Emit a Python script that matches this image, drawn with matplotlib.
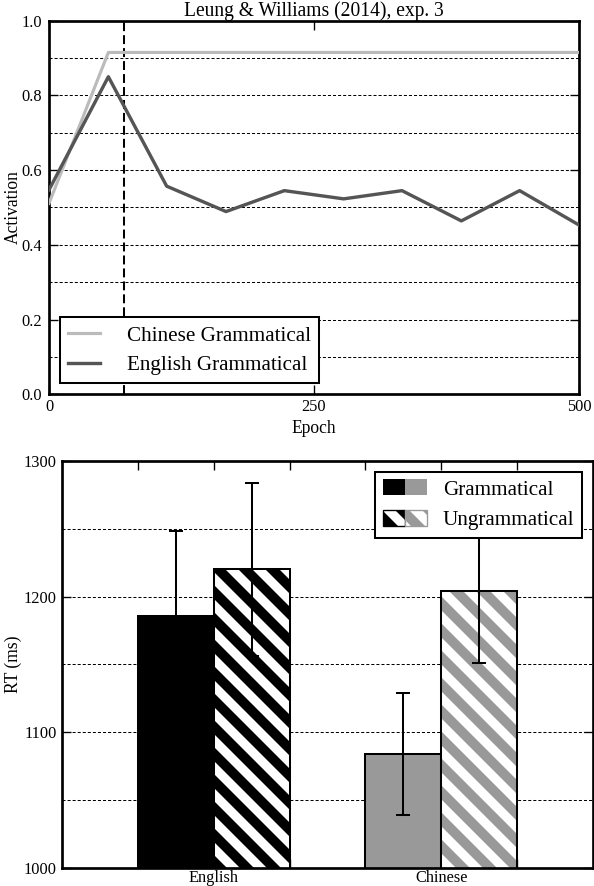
import matplotlib
matplotlib.use("Agg")
import matplotlib.pyplot as plt
from matplotlib.patches import Patch
from matplotlib.legend_handler import HandlerTuple
from matplotlib.ticker import MultipleLocator, FixedLocator, FormatStrFormatter

# ---------------- data ----------------
epochs = [0, 56, 111, 167, 222, 278, 333, 389, 444, 500]
chinese_gram = [0.511, 0.915, 0.915, 0.915, 0.915, 0.915, 0.915, 0.915, 0.915, 0.915]
english_gram = [0.547, 0.850, 0.557, 0.489, 0.545, 0.523, 0.545, 0.464, 0.545, 0.453]
criterion_epoch = 71
top_title = "Leung & Williams (2014), exp. 3"

languages = ["English", "Chinese"]
rt_gram = [1186, 1084]
rt_ungram = [1220, 1204]
err_gram = [62, 45]
err_ungram = [64, 53]

# ---------------- style ----------------
DPI = 162
plt.rcParams["font.family"] = ["Liberation Serif", "DejaVu Serif"]
plt.rcParams["hatch.linewidth"] = 4.4
plt.rcParams["axes.linewidth"] = 1.2
TICK_FS = 7.3
LAB_FS = 7.8
LEG_FS = 9.4

W, H = 594, 886
fig = plt.figure(figsize=(W / DPI, H / DPI), dpi=DPI)
ax1 = fig.add_axes([49 / W, 1 - 394.2 / H, 530 / W, 373.5 / H])
ax2 = fig.add_axes([62 / W, 1 - 867.7 / H, 531 / W, 406.7 / H])

grid_kw = dict(color="black", linewidth=0.45, linestyle=(0, (3, 2)))

# ---------------- top panel ----------------
ax1.plot(epochs, chinese_gram, color="#bbbbbb", lw=1.4, label="Chinese Grammatical", zorder=3)
ax1.plot(epochs, english_gram, color="#555555", lw=1.5, label="English Grammatical", zorder=3)
ax1.axvline(criterion_epoch, color="black", lw=0.9, linestyle=(0, (4.4, 2.0)), zorder=2)
ax1.set_xlim(0, 500)
ax1.set_ylim(0, 1.0)
ax1.set_xticks([0, 250, 500])
ax1.yaxis.set_major_locator(MultipleLocator(0.2))
ax1.yaxis.set_minor_locator(MultipleLocator(0.1))
ax1.yaxis.set_major_formatter(FormatStrFormatter("%.1f"))
ax1.grid(True, axis="y", which="both", **grid_kw)
ax1.set_axisbelow(True)
ax1.tick_params(which="both", direction="in", top=True, right=True, length=4,
                width=0.6, labelsize=TICK_FS, pad=3)
ax1.tick_params(axis="x", pad=2.2)
ax1.tick_params(which="minor", length=0)
ax1.set_xlabel("Epoch", fontsize=LAB_FS, labelpad=2)
ax1.set_ylabel("Activation", fontsize=LAB_FS, labelpad=0)
ax1.set_title(top_title, fontsize=8.7, pad=1.5)
leg1 = ax1.legend(loc="lower left", bbox_to_anchor=(0.0208, 0.029), borderaxespad=0,
                  fontsize=LEG_FS, fancybox=False, framealpha=1, edgecolor="black",
                  handlelength=1.5, handletextpad=1.25, labelspacing=0.45,
                  borderpad=0.4)
leg1.get_frame().set_linewidth(0.9)

# ---------------- bottom panel ----------------
w = 1 / 3
xs = list(range(len(languages)))
x_g = [x - w / 2 for x in xs]
x_u = [x + w / 2 for x in xs]
gram_colors = ["black", "#999999"]
hatch_colors = ["black", "#999999"]
HATCH = "\\\\"

ax2.bar(x_g, rt_gram, width=w, color=gram_colors, edgecolor="black", linewidth=0.9, zorder=2)
ax2.bar(x_u, rt_ungram, width=w, color="white", edgecolor=hatch_colors, hatch=HATCH,
        linewidth=0, zorder=2)
ax2.bar(x_u, rt_ungram, width=w, fill=False, edgecolor="black", linewidth=0.9, zorder=2.1)
ax2.errorbar(x_g, rt_gram, yerr=err_gram, fmt="none", ecolor="black", elinewidth=0.9,
             capsize=3, capthick=0.9, zorder=3)
ax2.errorbar(x_u, rt_ungram, yerr=err_ungram, fmt="none", ecolor="black", elinewidth=0.9,
             capsize=3, capthick=0.9, zorder=3)

ax2.set_xlim(-2 / 3, 5 / 3)
ax2.set_ylim(1000, 1300)
ax2.set_xticks(xs)
ax2.set_xticklabels(languages)
ax2.xaxis.set_minor_locator(FixedLocator([x_g[0] - w / 2, x_u[0] + w / 2,
                                          x_g[1] - w / 2, x_u[1] + w / 2]))
ax2.yaxis.set_major_locator(MultipleLocator(100))
ax2.yaxis.set_minor_locator(MultipleLocator(50))
ax2.grid(True, axis="y", which="both", **grid_kw)
ax2.set_axisbelow(True)
ax2.tick_params(which="both", direction="in", top=True, right=True, length=4,
                width=0.6, labelsize=TICK_FS, pad=2.2)
ax2.tick_params(axis="x", which="both", pad=1.0)
ax2.tick_params(axis="y", which="minor", length=0)
ax2.set_ylabel("RT (ms)", fontsize=LAB_FS, labelpad=1)

h_gram = (Patch(facecolor="black", edgecolor="black", linewidth=0),
          Patch(facecolor="#999999", edgecolor="#999999", linewidth=0))
h_ungram = (Patch(facecolor="white", edgecolor="black", hatch=HATCH, linewidth=0.6),
            Patch(facecolor="white", edgecolor="#999999", hatch=HATCH, linewidth=0.6))
leg2 = ax2.legend([h_gram, h_ungram], ["Grammatical", "Ungrammatical"],
                  handler_map={tuple: HandlerTuple(ndivide=None, pad=0)},
                  loc="upper right", bbox_to_anchor=(0.979, 0.973), borderaxespad=0,
                  fontsize=LEG_FS, fancybox=False, framealpha=1, edgecolor="black",
                  handlelength=2.1, handleheight=0.75, handletextpad=0.75,
                  labelspacing=0.5, borderpad=0.35)
leg2.get_frame().set_linewidth(0.9)
leg2.set_zorder(10)

fig.savefig("out.png", dpi=DPI)
